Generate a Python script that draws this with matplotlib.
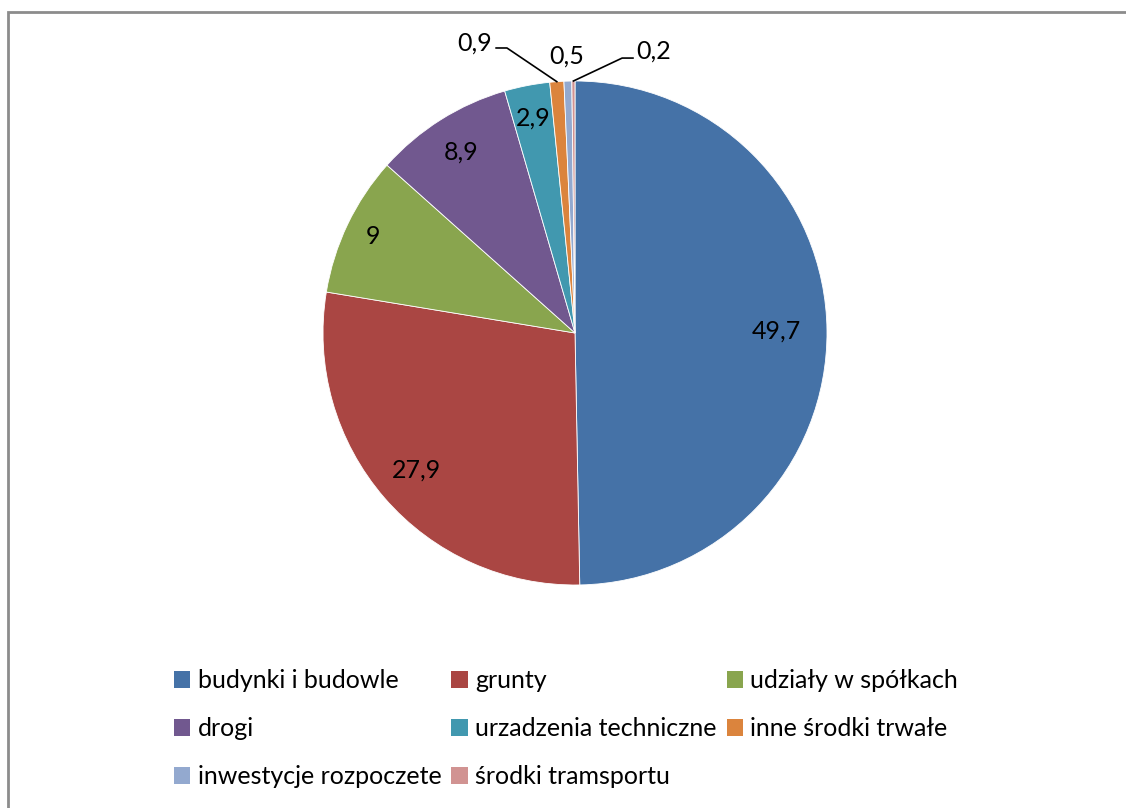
import matplotlib
matplotlib.use('Agg')
import matplotlib.pyplot as plt
import numpy as np
from matplotlib.patches import Rectangle, Patch

plt.rcParams['font.family'] = ['Lato', 'DejaVu Sans']

# dane
categories = ['budynki i budowle', 'grunty', 'udziały w spółkach', 'drogi',
              'urzadzenia techniczne', 'inne środki trwałe',
              'inwestycje rozpoczete', 'środki tramsportu']
values = [49.7, 27.9, 9, 8.9, 2.9, 0.9, 0.5, 0.2]
value_labels = ['49,7', '27,9', '9', '8,9', '2,9', '0,9', '0,5', '0,2']

colors = ['#4572A7', '#AA4643', '#89A54E', '#71588F',
          '#4198AF', '#DB843D', '#93A9CF', '#D19392']

W, H = 1126, 808
fig = plt.figure(figsize=(W / 100, H / 100), dpi=100)

# ramka wykresu
fig.patches.append(Rectangle((8 / W, -0.05), 1.2, 1.05 - 12 / H,
                             transform=fig.transFigure, fill=False,
                             edgecolor='#8c8c8c', linewidth=2.0))

cx, cy, r = 575, 333, 252
ax = fig.add_axes([(cx - r) / W, (H - cy - r) / H, 2 * r / W, 2 * r / H])
wedges, _ = ax.pie(values, colors=colors, startangle=90, counterclock=False,
                   radius=1, wedgeprops=dict(edgecolor='white', linewidth=0.6))
ax.set_xlim(-1, 1)
ax.set_ylim(-1, 1)
ax.axis('off')

fs = 18
# etykiety wewnatrz
inner_r = [0.80, 0.83, 0.89, 0.85, 0.87]
for i in range(5):
    w = wedges[i]
    a = np.deg2rad((w.theta1 + w.theta2) / 2)
    ax.text(inner_r[i] * np.cos(a), inner_r[i] * np.sin(a), value_labels[i],
            ha='center', va='center', fontsize=fs, color='black')

def mid(i):
    w = wedges[i]
    return np.deg2rad((w.theta1 + w.theta2) / 2)

# 0,9 - linia odniesienia
a = mid(5)
ax.plot([np.cos(a), -0.27, -0.313], [np.sin(a), 1.131, 1.131],
        color='black', linewidth=1.2, clip_on=False)
ax.text(-0.33, 1.15, value_labels[5], ha='right', va='center', fontsize=fs)

# 0,5
a = mid(6)
ax.text(1.10 * np.cos(a), 1.10 * np.sin(a), value_labels[6],
        ha='center', va='center', fontsize=fs)

# 0,2 - linia odniesienia
a = mid(7)
ax.plot([np.cos(a), 0.187, 0.23], [np.sin(a), 1.091, 1.091],
        color='black', linewidth=1.2, clip_on=False)
ax.text(0.245, 1.12, value_labels[7], ha='left', va='center', fontsize=fs)

# legenda (kolejnosc wierszami jak w Excelu)
order = [0, 3, 6, 1, 4, 7, 2, 5]
handles = [Patch(facecolor=colors[i], edgecolor='none') for i in order]
labels = [categories[i] for i in order]
fig.legend(handles, labels, ncol=3, loc='center', frameon=False,
           bbox_to_anchor=(566 / W, 1 - 729 / H), fontsize=fs,
           handlelength=0.65, handleheight=0.65, handletextpad=0.3,
           columnspacing=0.4, labelspacing=1.0)

fig.savefig('out.png', dpi=100)
